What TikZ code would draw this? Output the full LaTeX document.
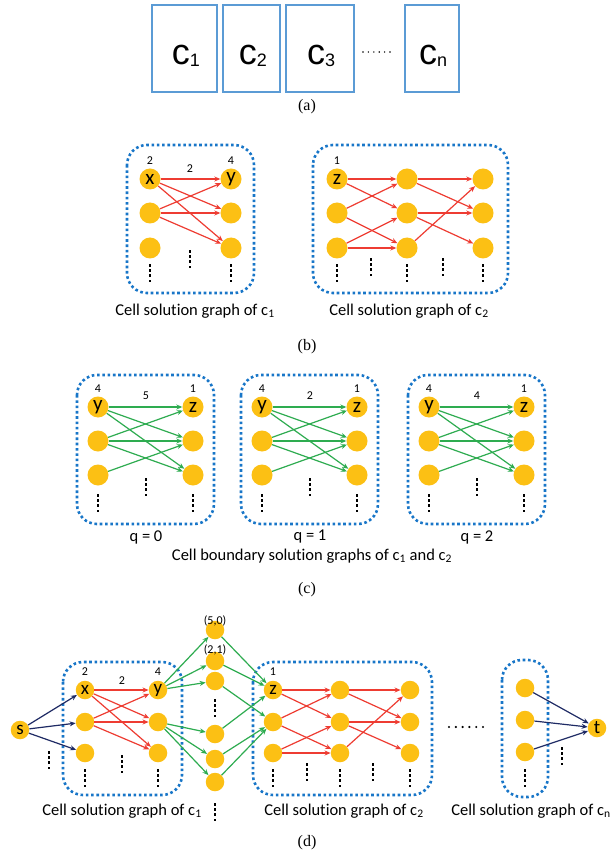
\documentclass[tikz,border=0pt]{standalone}
\usepackage{fontspec}
\setmainfont{Carlito}[Ligatures=NoCommon]
\newfontfamily\serifcap{Liberation Serif}
\newfontfamily\arialf{Liberation Sans}
\usetikzlibrary{arrows.meta}
\definecolor{gold}{RGB}{252,192,20}
\definecolor{edred}{RGB}{238,60,50}
\definecolor{edgreen}{RGB}{46,172,80}
\definecolor{navy}{RGB}{30,42,100}
\definecolor{dotblue}{RGB}{24,118,200}
\definecolor{boxblue}{RGB}{91,155,213}
\begin{document}
\begin{tikzpicture}[x=1pt,y=-1pt,
 nd/.style={circle,fill=gold,inner sep=0pt,minimum size=21pt,font=\fontsize{21}{21}\selectfont},
 ndd/.style={nd,minimum size=18.5pt,font=\fontsize{19}{19}\selectfont},
 num/.style={font=\fontsize{12}{12}\selectfont,inner sep=0pt},
 cellbox/.style={draw=dotblue,line width=2.6pt,dash pattern=on 2.6pt off 2.7pt,rounded corners=20pt},
 re/.style={draw=edred,line width=1.2pt,-{Stealth[length=6pt,width=5pt]}},
 ge/.style={draw=edgreen,line width=1.2pt,-{Stealth[length=6pt,width=5pt]}},
 ne/.style={draw=navy,line width=1.2pt,-{Stealth[length=6pt,width=5pt]}},
 captxt/.style={font=\fontsize{16.5}{16.5}\selectfont,inner sep=0pt},
 subcap/.style={font=\serifcap\fontsize{16}{16}\selectfont,inner sep=0pt},
 abox/.style={draw=boxblue,line width=1.8pt,fill=white},
 albl/.style={anchor=base,inner sep=0pt},
 vd/.pic={\foreach \k in {0,1,2,3} \fill[black] (-1.2,\k*5.2) rectangle (1.2,\k*5.2+2.6);}
]
\fill[white] (0,0) rectangle (613,858);
\path[use as bounding box] (0,0) rectangle (613,858);

% ---------------- (a)
\newcommand{\cl}[1]{\arialf\fontsize{36}{36}\selectfont c\raisebox{-2pt}{\fontsize{18}{18}\selectfont #1}}
\draw[abox] (152,5) rectangle (217,92);
\draw[abox] (223,5) rectangle (280,92);
\draw[abox] (286,5) rectangle (354,92);
\draw[abox] (405,5) rectangle (459,92);
\node[albl] (a1) at (186,65) {\cl{1}};
\node[albl] (a2) at (253,65) {\cl{2}};
\node[albl] (a3) at (321,65) {\cl{3}};
\node[albl] (an) at (433,65) {\cl{n}};
\foreach \k in {0,...,5} \fill[black] (363+\k*5.4,52) circle (0.8);
\node[subcap] (capa) at (307,107) {(a)};

% ---------------- (b) left cell
\draw[cellbox] (127,145) rectangle (254,293);
\node[nd] (bx1) at (150,179) {x};
\node[nd] (bx2) at (150,213) {};
\node[nd] (bx3) at (150,248) {};
\node[nd] (by1) at (231,179) {y};
\node[nd] (by2) at (231,213) {};
\node[nd] (by3) at (231,248) {};
\node[num] (bl1) at (150,161) {2};
\node[num] (bl2) at (231,161) {4};
\node[num] (bl3) at (190,169) {2};
\foreach \s in {bx1,bx2} \foreach \t in {by1,by2,by3} \draw[re] (\s) -- (\t);
\pic at (150,264) {vd};
\pic at (190,250) {vd};
\pic at (231,264) {vd};
\node[captxt] (bc1) at (195,311) {Cell solution graph of c\textsubscript{1}};

% ---------------- (b) right cell
\draw[cellbox] (313,145) rectangle (508,293);
\node[nd] (bz1) at (337,179) {z};
\node[nd] (bz2) at (337,213) {};
\node[nd] (bz3) at (337,248) {};
\node[nd] (bm1) at (407,179) {};
\node[nd] (bm2) at (407,213) {};
\node[nd] (bm3) at (407,248) {};
\node[nd] (bn1) at (483,179) {};
\node[nd] (bn2) at (483,213) {};
\node[nd] (bn3) at (483,248) {};
\node[num] (bl4) at (337,161) {1};
\draw[re] (bz1) -- (bm1); \draw[re] (bz1) -- (bm2);
\draw[re] (bz2) -- (bm1); \draw[re] (bz2) -- (bm3);
\draw[re] (bz3) -- (bm2); \draw[re] (bz3) -- (bm3);
\draw[re] (bm1) -- (bn1); \draw[re] (bm1) -- (bn2);
\draw[re] (bm2) -- (bn2); \draw[re] (bm2) -- (bn3);
\draw[re] (bm3) -- (bn1);
\pic at (337,264) {vd};
\pic at (371,258) {vd};
\pic at (407,264) {vd};
\pic at (443,258) {vd};
\pic at (483,264) {vd};
\node[captxt] (bc2) at (409,311) {Cell solution graph of c\textsubscript{2}};
\node[subcap] (capb) at (307,347) {(b)};

% ---------------- (c)
\foreach \i/\ox/\w/\q in {1/98/5/0,2/262/2/1,3/429/4/2}{
  \draw[cellbox] (\ox-21,375) rectangle (\ox+116,524);
  \node[nd] (cy\i a) at (\ox,407) {y};
  \node[nd] (cy\i b) at (\ox,441) {};
  \node[nd] (cy\i c) at (\ox,475) {};
  \node[nd] (cz\i a) at (\ox+95,407) {z};
  \node[nd] (cz\i b) at (\ox+95,441) {};
  \node[nd] (cz\i c) at (\ox+95,475) {};
  \node[num] (cn\i a) at (\ox,389) {4};
  \node[num] (cn\i b) at (\ox+95,389) {1};
  \node[num] (cn\i c) at (\ox+48,396) {\w};
  \draw[ge] (cy\i a) -- (cz\i a); \draw[ge] (cy\i a) -- (cz\i b); \draw[ge] (cy\i a) -- (cz\i c);
  \draw[ge] (cy\i b) -- (cz\i a); \draw[ge] (cy\i b) -- (cz\i b); \draw[ge] (cy\i b) -- (cz\i c);
  \draw[ge] (cy\i c) -- (cz\i b);
  \pic at (\ox,494) {vd};
  \pic at (\ox+48,478) {vd};
  \pic at (\ox+95,494) {vd};
  \node[captxt] (cq\i) at (\ox+48,537) {q = \q};
}
\node[captxt] (cc) at (312,556) {Cell boundary solution graphs of c\textsubscript{1} and c\textsubscript{2}};
\node[subcap] (capc) at (307,590) {(c)};

% ---------------- (d)
\node[ndd] (s) at (20,730) {s};
\draw[cellbox] (63,662) rectangle (182,795);
\node[ndd] (dx1) at (85,690) {x};
\node[ndd] (dx2) at (85,722) {};
\node[ndd] (dx3) at (85,753) {};
\node[ndd] (dy1) at (158,690) {y};
\node[ndd] (dy2) at (158,722) {};
\node[ndd] (dy3) at (158,753) {};
\node[num] (dl1) at (85,672) {2};
\node[num] (dl2) at (158,672) {4};
\node[num] (dl3) at (122,681) {2};
\foreach \t in {dx1,dx2,dx3} \draw[ne] (s) -- (\t);
\foreach \s in {dx1,dx2} \foreach \t in {dy1,dy2,dy3} \draw[re] (\s) -- (\t);
\pic at (49,751) {vd};
\pic at (85,769) {vd};
\pic at (122,755) {vd};
\pic at (158,769) {vd};
\node[captxt] (dc1) at (122,811) {Cell solution graph of c\textsubscript{1}};

% middle column
\node[ndd] (m1) at (215,630) {};
\node[ndd] (m2) at (215,661) {};
\node[ndd] (m3) at (215,681) {};
\node[ndd] (m4) at (215,734) {};
\node[ndd] (m5) at (215,759) {};
\node[ndd] (m6) at (215,782) {};
\node[num] (ml1) at (215,621) {(5,0)};
\node[num] (ml2) at (215,650) {(2,1)};
\pic at (215,699) {vd};
\pic at (215,803) {vd};

% cell 2
\draw[cellbox] (253,662) rectangle (432,795);
\node[ndd] (dz1) at (273,690) {z};
\node[ndd] (dz2) at (273,722) {};
\node[ndd] (dz3) at (273,753) {};
\node[ndd] (dm1) at (340,690) {};
\node[ndd] (dm2) at (340,722) {};
\node[ndd] (dm3) at (340,753) {};
\node[ndd] (dn1) at (410,690) {};
\node[ndd] (dn2) at (410,722) {};
\node[ndd] (dn3) at (410,753) {};
\node[num] (dl4) at (273,672) {1};
\draw[ge] (dy1) -- (m1); \draw[ge] (dy1) -- (m2); \draw[ge] (dy1) -- (m3);
\draw[ge] (dy2) -- (m4); \draw[ge] (dy2) -- (m5); \draw[ge] (dy2) -- (m6);
\draw[ge] (m1) -- (dz1); \draw[ge] (m2) -- (dz1); \draw[ge] (m3) -- (dz2);
\draw[ge] (m4) -- (dz1); \draw[ge] (m5) -- (dz2); \draw[ge] (m6) -- (dz2);
\draw[re] (dz1) -- (dm1); \draw[re] (dz1) -- (dm2);
\draw[re] (dz2) -- (dm1); \draw[re] (dz2) -- (dm3);
\draw[re] (dz3) -- (dm2); \draw[re] (dz3) -- (dm3);
\draw[re] (dm1) -- (dn1); \draw[re] (dm1) -- (dn2);
\draw[re] (dm2) -- (dn2); \draw[re] (dm2) -- (dn3);
\draw[re] (dm3) -- (dn1);
\pic at (273,769) {vd};
\pic at (307,763) {vd};
\pic at (340,769) {vd};
\pic at (373,763) {vd};
\pic at (410,769) {vd};
\node[captxt] (dc2) at (344,811) {Cell solution graph of c\textsubscript{2}};

\foreach \k in {0,...,5} \fill[black] (449+\k*6.8,727) circle (1.2);

% cell n
\draw[cellbox] (502,660) rectangle (548,797);
\node[ndd] (dk1) at (525,688) {};
\node[ndd] (dk2) at (525,720) {};
\node[ndd] (dk3) at (525,752) {};
\node[ndd] (t) at (597,728) {t};
\foreach \s in {dk1,dk2,dk3} \draw[ne] (\s) -- (t);
\pic at (525,769) {vd};
\pic at (562,747) {vd};
\node[captxt] (dcn) at (531,811) {Cell solution graph of c\textsubscript{n}};
\node[subcap] (capd) at (307,843) {(d)};
\end{tikzpicture}
\end{document}
